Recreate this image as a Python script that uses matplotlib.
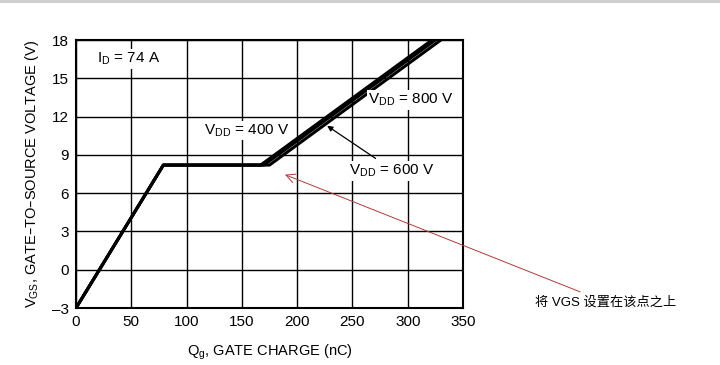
import matplotlib
matplotlib.use("Agg")
import matplotlib.pyplot as plt
import numpy as np

plt.rcParams['font.family'] = ['Liberation Sans', 'Noto Sans CJK SC', 'DejaVu Sans']

# Data
qg_400 = [0, 79, 167, 322]
vgs_400 = [-3, 8.2, 8.2, 18]
qg_600 = [0, 79, 170, 325]
vgs_600 = [-3, 8.2, 8.2, 18]
qg_800 = [0, 79, 175, 330]
vgs_800 = [-3, 8.2, 8.2, 18]

x_ticks = [0, 50, 100, 150, 200, 250, 300, 350]
y_ticks = [-3, 0, 3, 6, 9, 12, 15, 18]
y_tick_labels = ['\u20133', '0', '3', '6', '9', '12', '15', '18']

fig = plt.figure(figsize=(7.2, 3.65), dpi=100)
ax = fig.add_axes([76/720, 1-308/365, (463-76)/720, (308-40)/365])

for q, v in [(qg_400, vgs_400), (qg_600, vgs_600), (qg_800, vgs_800)]:
    ax.plot(q, v, color='black', lw=2.2, solid_capstyle='butt', zorder=3, clip_on=True)

ax.set_xlim(0, 350)
ax.set_ylim(-3, 18)
ax.set_xticks(x_ticks)
ax.set_yticks(y_ticks)
ax.set_yticklabels(y_tick_labels)
ax.grid(True, color='black', lw=1.0)
ax.tick_params(length=0, labelsize=11, pad=5)
for s in ax.spines.values():
    s.set_linewidth(1.5)

ax.set_xlabel('Q$_\\mathregular{g}$, GATE CHARGE (nC)', fontsize=10.5, labelpad=10)
ax.set_ylabel('V$_\\mathregular{GS}$, GATE\u2013TO\u2013SOURCE VOLTAGE (V)', fontsize=10.5, labelpad=8)

lbl = dict(fontsize=11, va='center', ha='left',
           bbox=dict(facecolor='white', edgecolor='none', pad=1))
ax.text(19, 16.5, 'I$_\\mathregular{D}$ = 74 A', **lbl)
ax.text(116, 10.9, 'V$_\\mathregular{DD}$ = 400 V', **lbl)
ax.text(264, 13.3, 'V$_\\mathregular{DD}$ = 800 V', **lbl)
ax.text(247, 7.75, 'V$_\\mathregular{DD}$ = 600 V', **lbl)
ax.annotate('', xy=(225, 11.4), xytext=(273, 8.6),
            arrowprops=dict(arrowstyle='-|>', color='black', lw=0.9, mutation_scale=8))

# red annotation
ax.annotate('将 VGS 设置在该点之上', xy=(189, 7.45), xycoords='data',
            xytext=(535/720, 1-302/365), textcoords='figure fraction',
            fontsize=9.5, va='center', ha='left',
            arrowprops=dict(arrowstyle='->', color='#b23a3a', lw=0.7, mutation_scale=16,
                            shrinkA=2, shrinkB=0),
            annotation_clip=False)

fig.add_artist(plt.Line2D([0, 1], [0.997, 0.997], transform=fig.transFigure, color='#cccccc', lw=2))

fig.savefig('out.png', dpi=100)
